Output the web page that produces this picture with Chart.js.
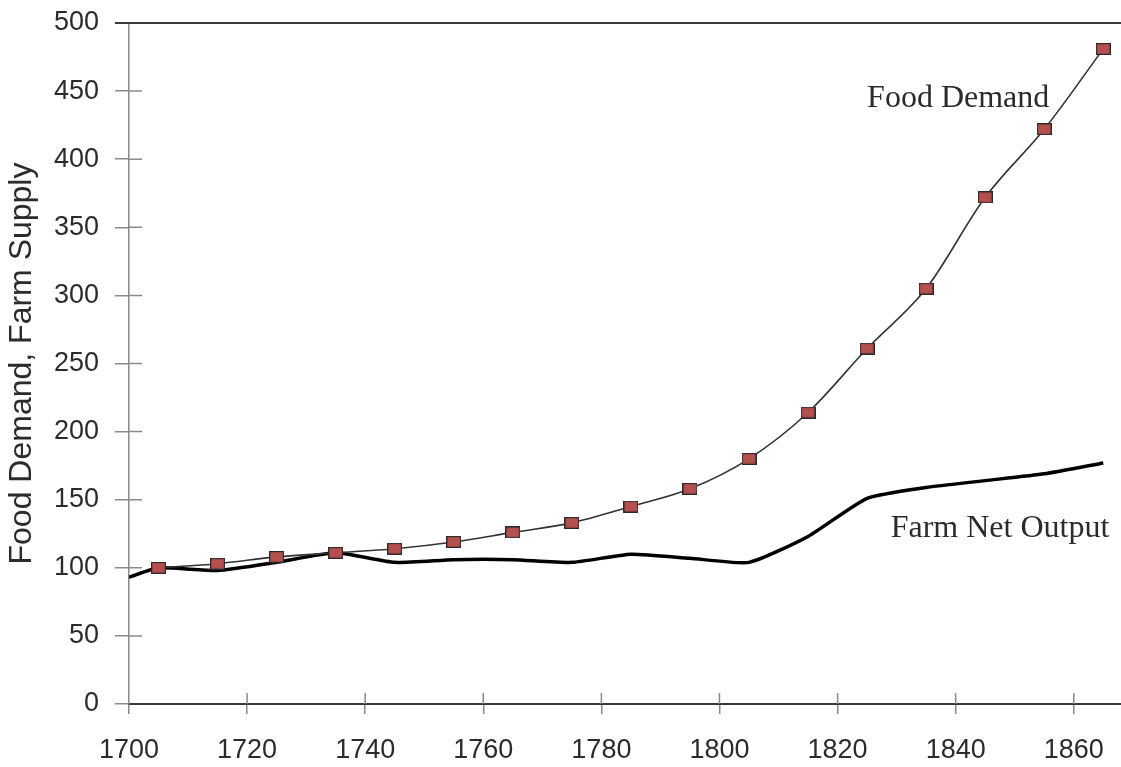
<!DOCTYPE html>
<html>
<head>
<meta charset="utf-8">
<script src="https://cdn.jsdelivr.net/npm/chart.js@4/dist/chart.umd.min.js"></script>
<style>
  html, body { margin: 0; padding: 0; background: #fff; }
  #wrap { width: 1121px; height: 767px; }
</style>
</head>
<body>
<div id="wrap"><canvas id="food-chart"></canvas></div>
<script>
"use strict";
// years and values
const demandYears = [1705, 1715, 1725, 1735, 1745, 1755, 1765, 1775, 1785, 1795, 1805, 1815, 1825, 1835, 1845, 1855, 1865];
const demandValues = [100, 103, 108, 111, 114, 119, 126, 133, 145, 158, 180, 214, 261, 305, 372, 422, 481];

const outputYears = [1700, 1705, 1715, 1725, 1735, 1745, 1755, 1765, 1775, 1785, 1795, 1805, 1815, 1825, 1835, 1845, 1855, 1865];
const outputValues = [93, 100, 98, 104, 111, 104, 106, 106, 104, 110, 107, 104, 123, 151, 159, 164, 169, 177];

const yTicks = [0, 50, 100, 150, 200, 250, 300, 350, 400, 450, 500];
const xTicks = [1700, 1720, 1740, 1760, 1780, 1800, 1820, 1840, 1860];

// in-chart labels, anchored in data space
const seriesLabels = [
    { text: 'Food Demand', year: 1825, value: 438 },
    { text: 'Farm Net Output', year: 1829, value: 122.5 }
];

// marker a bit wider than tall, like the original
function makeMarker() {
    const c = document.createElement('canvas');
    c.width = 15;
    c.height = 12;
    const g = c.getContext('2d');
    g.fillStyle = '#b4504e';
    g.fillRect(0, 0, 15, 12);
    g.strokeStyle = '#2a2a2a';
    g.lineWidth = 1.2;
    g.strokeRect(0.6, 0.6, 13.8, 10.8);
    return c;
}

const axisExtras = {
    id: 'axisExtras',
    beforeDatasetsDraw(chart) {
        const ctx = chart.ctx;
        const a = chart.chartArea;
        const x = chart.scales.x;
        const y = chart.scales.y;
        ctx.save();
        // top frame line
        ctx.strokeStyle = '#3a3a3a';
        ctx.lineWidth = 2;
        ctx.beginPath();
        ctx.moveTo(a.left - 14, a.top);
        ctx.lineTo(a.right, a.top);
        ctx.stroke();
        // tick parts that cross into the plot
        ctx.strokeStyle = '#8a8a8a';
        ctx.lineWidth = 1.5;
        ctx.beginPath();
        yTicks.slice(1, -1).forEach(v => {
            const py = y.getPixelForValue(v);
            ctx.moveTo(a.left, py);
            ctx.lineTo(a.left + 13, py);
        });
        xTicks.slice(1).forEach(v => {
            const px = x.getPixelForValue(v);
            ctx.moveTo(px, a.bottom);
            ctx.lineTo(px, a.bottom - 11);
        });
        ctx.stroke();
        ctx.restore();
    },
    afterDatasetsDraw(chart) {
        const ctx = chart.ctx;
        const x = chart.scales.x;
        const y = chart.scales.y;
        ctx.save();
        ctx.fillStyle = '#2b2b2b';
        ctx.font = '32px "Liberation Serif", "Times New Roman", serif';
        ctx.textAlign = 'left';
        ctx.textBaseline = 'alphabetic';
        seriesLabels.forEach(l => {
            ctx.fillText(l.text, x.getPixelForValue(l.year), y.getPixelForValue(l.value));
        });
        ctx.restore();
    }
};

const tickFont = { family: '"Liberation Sans", Arial, sans-serif', size: 27 };

new Chart(document.getElementById('food-chart').getContext('2d'), {
    type: 'line',
    data: {
        datasets: [
            {
                label: 'Food Demand',
                data: demandYears.map((yr, i) => ({ x: yr, y: demandValues[i] })),
                borderColor: '#333333',
                borderWidth: 1.6,
                cubicInterpolationMode: 'monotone',
                pointStyle: makeMarker(),
                pointRadius: 7,
                fill: false
            },
            {
                label: 'Farm Net Output',
                data: outputYears.map((yr, i) => ({ x: yr, y: outputValues[i] })),
                borderColor: '#000000',
                borderWidth: 3.5,
                tension: 0.18,
                pointRadius: 0,
                fill: false
            }
        ]
    },
    options: {
        responsive: true,
        maintainAspectRatio: false,
        animation: false,
        layout: { autoPadding: false, padding: { top: 23, right: 0, left: 0, bottom: 0 } },
        plugins: {
            legend: { display: false },
            tooltip: { enabled: false }
        },
        scales: {
            x: {
                type: 'linear',
                min: 1700,
                max: 1868,
                afterFit: s => {
                    s.height = 63;
                    s.paddingLeft = 0;
                    s.paddingRight = 0;
                },
                ticks: {
                    stepSize: 20,
                    includeBounds: false,
                    padding: 20,
                    color: '#2b2b2b',
                    font: tickFont,
                    maxRotation: 0,
                    callback: v => String(v)
                },
                grid: {
                    drawOnChartArea: false,
                    drawTicks: true,
                    tickLength: 10,
                    color: '#8a8a8a',
                    lineWidth: 1.5
                },
                border: { display: true, color: '#3a3a3a', width: 2 }
            },
            y: {
                min: 0,
                max: 500,
                afterFit: s => {
                    s.width = 129;
                    s.paddingTop = 0;
                    s.paddingBottom = 0;
                },
                ticks: {
                    stepSize: 50,
                    padding: 16,
                    color: '#2b2b2b',
                    font: tickFont
                },
                grid: {
                    drawOnChartArea: false,
                    drawTicks: true,
                    tickLength: 14,
                    color: '#8a8a8a',
                    lineWidth: 1.5
                },
                border: { display: true, color: '#8a8a8a', width: 1.5 },
                title: {
                    display: true,
                    text: 'Food Demand, Farm Supply',
                    color: '#2b2b2b',
                    font: { family: '"Liberation Sans", Arial, sans-serif', size: 32 },
                    padding: { top: 3, bottom: 0 }
                }
            }
        }
    },
    plugins: [axisExtras]
});
</script>
</body>
</html>
